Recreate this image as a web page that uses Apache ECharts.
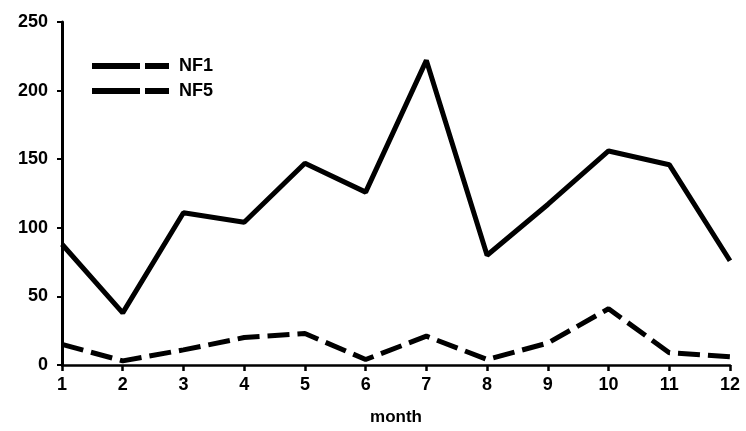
<!DOCTYPE html>
<html><head><meta charset="utf-8">
<script src="https://cdn.jsdelivr.net/npm/echarts@6/dist/echarts.min.js"></script>
<style>html,body{margin:0;padding:0;background:#fff}#c{width:746px;height:431px}</style>
</head><body><div id="c"></div>
<script>
const months = [1,2,3,4,5,6,7,8,9,10,11,12];
const nf1 = [88,38,111,104,147,126,222,80,117,156,146,76];
const nf5 = [15,3,11,20,23,4,21,4,16,41,9,6];
const yTicks = [0,50,100,150,200,250];

const chart = echarts.init(document.getElementById('c'));
const font = {fontFamily:'Liberation Sans, Arial, sans-serif', fontWeight:'bold', fontSize:17, color:'#000'};
const legendIcon = 'path://M0,0H48V6H0Z M53,0H77V6H53Z';
chart.setOption({
  animation:false,
  backgroundColor:'#fff',
  grid:{left:62,right:16,top:22,bottom:64},
  legend:{
    left:87, top:52, orient:'vertical', itemGap:7, itemWidth:77, itemHeight:6,
    textStyle:Object.assign({}, font, {fontSize:18, lineHeight:18, padding:[0,0,0,5]}),
    data:[
      {name:'NF1', icon:legendIcon, itemStyle:{color:'#000'}},
      {name:'NF5', icon:legendIcon, itemStyle:{color:'#000'}}
    ]
  },
  xAxis:{
    type:'value', min:1, max:12, interval:1,
    name:'month', nameLocation:'middle', nameGap:44,
    nameTextStyle:Object.assign({}, font, {fontSize:17}),
    axisLine:{lineStyle:{color:'#000', width:2.5}},
    axisTick:{show:true, length:6, lineStyle:{color:'#000', width:2.5}},
    axisLabel:Object.assign({}, font, {margin:11, fontSize:18}),
    splitLine:{show:false}
  },
  yAxis:{
    type:'value', min:0, max:250, interval:50,
    axisLine:{show:true, lineStyle:{color:'#000', width:3}},
    axisTick:{show:true, length:5, lineStyle:{color:'#000', width:2}},
    axisLabel:Object.assign({}, font, {fontSize:18, margin:14, formatter:v=>yTicks.includes(v)?String(v):''}),
    splitLine:{show:false}
  },
  series:[
    {name:'NF1', type:'line', data:months.map((m,i)=>[m,nf1[i]]), showSymbol:false, symbol:'none',
     lineStyle:{color:'#000', width:5}, itemStyle:{color:'#000'}},
    {name:'NF5', type:'line', data:months.map((m,i)=>[m,nf5[i]]), showSymbol:false, symbol:'none',
     lineStyle:{color:'#000', width:5, type:[22,8]}, itemStyle:{color:'#000'}}
  ]
});
</script></body></html>
